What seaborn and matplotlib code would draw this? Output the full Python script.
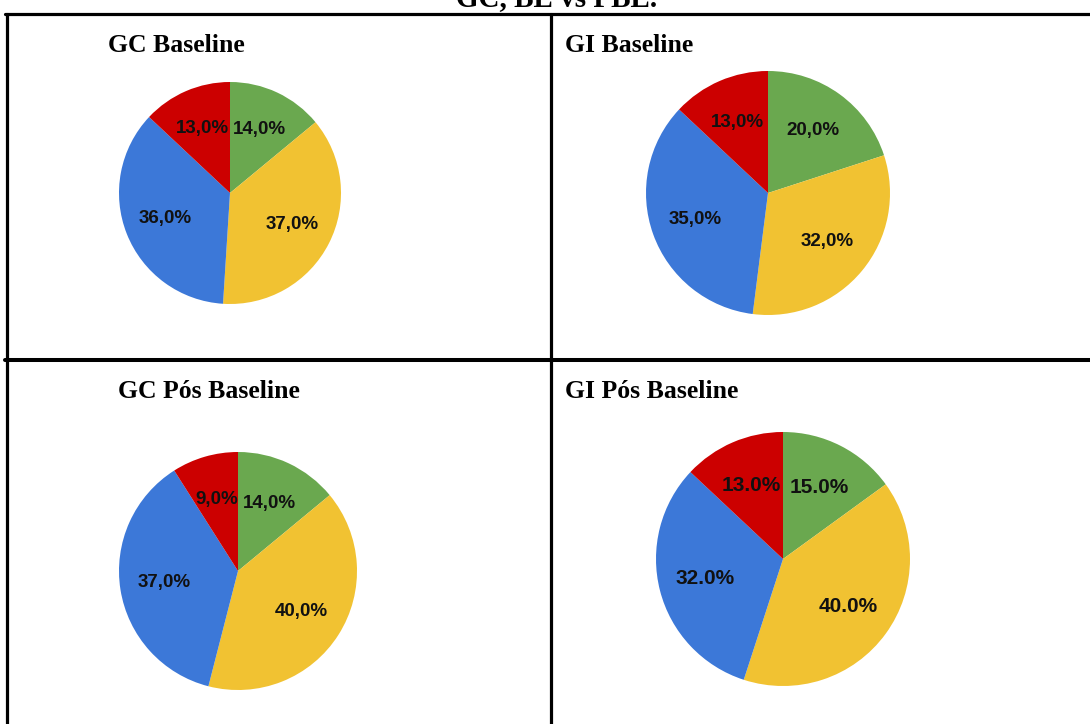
# 2x2 table of pie charts: GC / GI, baseline and post baseline

import matplotlib
matplotlib.use('Agg')
import matplotlib.pyplot as plt
from matplotlib.lines import Line2D
import seaborn as sns

sns.set_theme(style='white')
plt.rcParams['font.family'] = ['Liberation Sans', 'DejaVu Sans']
plt.rcParams['text.color'] = 'black'

W, H = 1090, 724

# slice order: clockwise from 12 o'clock
colors = ['#6aa84f', '#f1c232', '#3c78d8', '#cc0000']

titles = ['GC Baseline', 'GI Baseline', 'GC Pós Baseline', 'GI Pós Baseline']
gcBase = [14, 37, 36, 13]
giBase = [20, 32, 35, 13]
gcPos = [14, 40, 37, 9]
giPos = [15, 40, 32, 13]
values = [gcBase, giBase, gcPos, giPos]
decimalSep = [',', ',', ',', '.']

# layout in pixels: pie centre x, centre y, radius, title x, title y, label size
layout = [
    (230, 193, 111, 108, 46, 13.5),
    (768, 193, 122, 565, 46, 13.5),
    (238, 571, 119, 118, 391, 13.5),
    (783, 559, 127, 565, 391, 15),
]

fig = plt.figure(figsize=(W / 100, H / 100), dpi=100)

for vals, sep, title, (cx, cy, r, tx, ty, fs) in zip(values, decimalSep, titles, layout):
    pad = 1.15
    ax = fig.add_axes([(cx - r * pad) / W, 1 - (cy + r * pad) / H,
                       2 * r * pad / W, 2 * r * pad / H])
    ax.pie(vals, colors=colors, startangle=90, counterclock=False,
           autopct=lambda p, s=sep: f'{p:.1f}%'.replace('.', s),
           pctdistance=0.63, wedgeprops={'linewidth': 0},
           textprops={'fontsize': fs, 'fontweight': 'bold', 'color': '#111111'})
    ax.set_xlim(-pad, pad)
    ax.set_ylim(-pad, pad)
    ax.set_aspect('equal')
    ax.axis('off')
    fig.text(tx / W, 1 - ty / H, title, ha='left', va='center',
             fontsize=18.5, fontweight='bold', family='Liberation Serif')

# table borders
lw = 2.3
fig.add_artist(Line2D([5 / W, 1], [1 - 14 / H] * 2, color='black', lw=lw))
fig.add_artist(Line2D([5 / W, 1], [1 - 359.5 / H] * 2, color='black', lw=lw + 0.6))
fig.add_artist(Line2D([7 / W] * 2, [0, 1 - 14 / H], color='black', lw=lw))
fig.add_artist(Line2D([551 / W] * 2, [0, 1 - 14 / H], color='black', lw=lw))

# header, mostly cut off at the top edge as in the source
fig.text(557 / W, 1 - 6 / H, 'GC, BE vs PBE.', ha='center', va='baseline',
         fontsize=21, fontweight='bold', family='Liberation Serif')

fig.savefig('out.png', dpi=100)
